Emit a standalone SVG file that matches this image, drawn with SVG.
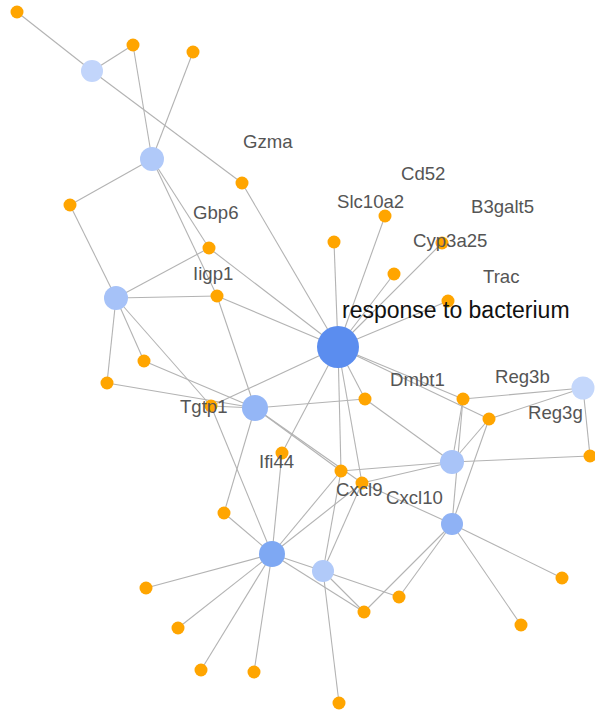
<svg xmlns="http://www.w3.org/2000/svg" width="595" height="712" viewBox="0 0 595 712">
<style>
.e{stroke:#b3b3b3;stroke-width:1.1;fill:none}
.o{fill:#ffa500}
.lb{font-family:"Liberation Sans",Arial,sans-serif;font-size:18.6px;fill:#555}
.big{font-family:"Liberation Sans",Arial,sans-serif;font-size:23px;fill:#111}
</style>
<rect width="595" height="712" fill="#fff"/>
<g id="edges" class="e">
<line x1="92" y1="71" x2="17" y2="12"/>
<line x1="92" y1="71" x2="133" y2="45"/>
<line x1="92" y1="71" x2="242" y2="183"/>
<line x1="152" y1="159" x2="133" y2="45"/>
<line x1="152" y1="159" x2="193" y2="52"/>
<line x1="152" y1="159" x2="70" y2="205"/>
<line x1="152" y1="159" x2="209" y2="248"/>
<line x1="152" y1="159" x2="217" y2="296"/>
<line x1="242" y1="183" x2="338" y2="347"/>
<line x1="116" y1="298" x2="70" y2="205"/>
<line x1="116" y1="298" x2="209" y2="248"/>
<line x1="116" y1="298" x2="217" y2="296"/>
<line x1="116" y1="298" x2="144" y2="361"/>
<line x1="116" y1="298" x2="107" y2="383"/>
<line x1="116" y1="298" x2="211" y2="406"/>
<line x1="209" y1="248" x2="338" y2="347"/>
<line x1="217" y1="296" x2="338" y2="347"/>
<line x1="217" y1="296" x2="255" y2="408"/>
<line x1="144" y1="361" x2="255" y2="408"/>
<line x1="107" y1="383" x2="255" y2="408"/>
<line x1="211" y1="406" x2="255" y2="408"/>
<line x1="211" y1="406" x2="338" y2="347"/>
<line x1="211" y1="406" x2="272" y2="554"/>
<line x1="338" y1="347" x2="334" y2="242"/>
<line x1="338" y1="347" x2="385" y2="216"/>
<line x1="338" y1="347" x2="442" y2="243"/>
<line x1="338" y1="347" x2="394" y2="274"/>
<line x1="338" y1="347" x2="448" y2="301"/>
<line x1="338" y1="347" x2="282" y2="453"/>
<line x1="338" y1="347" x2="365" y2="399"/>
<line x1="338" y1="347" x2="463" y2="399"/>
<line x1="338" y1="347" x2="489" y2="419"/>
<line x1="338" y1="347" x2="341" y2="471"/>
<line x1="338" y1="347" x2="362" y2="483"/>
<line x1="255" y1="408" x2="365" y2="399"/>
<line x1="255" y1="408" x2="341" y2="471"/>
<line x1="255" y1="408" x2="362" y2="483"/>
<line x1="255" y1="408" x2="224" y2="513"/>
<line x1="282" y1="453" x2="272" y2="554"/>
<line x1="365" y1="399" x2="452" y2="462"/>
<line x1="463" y1="399" x2="583" y2="388"/>
<line x1="489" y1="419" x2="583" y2="388"/>
<line x1="583" y1="388" x2="590" y2="456"/>
<line x1="463" y1="399" x2="452" y2="462"/>
<line x1="463" y1="399" x2="452" y2="524"/>
<line x1="489" y1="419" x2="452" y2="462"/>
<line x1="489" y1="419" x2="452" y2="524"/>
<line x1="452" y1="462" x2="590" y2="456"/>
<line x1="341" y1="471" x2="452" y2="462"/>
<line x1="362" y1="483" x2="452" y2="462"/>
<line x1="362" y1="483" x2="452" y2="524"/>
<line x1="341" y1="471" x2="272" y2="554"/>
<line x1="362" y1="483" x2="272" y2="554"/>
<line x1="341" y1="471" x2="323" y2="571"/>
<line x1="362" y1="483" x2="323" y2="571"/>
<line x1="224" y1="513" x2="272" y2="554"/>
<line x1="272" y1="554" x2="323" y2="571"/>
<line x1="272" y1="554" x2="364" y2="612"/>
<line x1="323" y1="571" x2="364" y2="612"/>
<line x1="323" y1="571" x2="399" y2="597"/>
<line x1="452" y1="524" x2="364" y2="612"/>
<line x1="452" y1="524" x2="399" y2="597"/>
<line x1="272" y1="554" x2="146" y2="588"/>
<line x1="272" y1="554" x2="178" y2="628"/>
<line x1="272" y1="554" x2="201" y2="670"/>
<line x1="272" y1="554" x2="254" y2="672"/>
<line x1="323" y1="571" x2="339" y2="703"/>
<line x1="452" y1="524" x2="562" y2="578"/>
<line x1="452" y1="524" x2="521" y2="625"/>
</g>
<g id="n-o1"><circle class="o" cx="17" cy="12" r="6.5"/></g>
<g id="n-o2"><circle class="o" cx="133" cy="45" r="6.5"/></g>
<g id="n-o3"><circle class="o" cx="193" cy="52" r="6.5"/></g>
<g id="n-gzma"><circle class="o" cx="242" cy="183" r="6.5"/></g>
<g id="n-o5"><circle class="o" cx="70" cy="205" r="6.5"/></g>
<g id="n-gbp6"><circle class="o" cx="209" cy="248" r="6.5"/></g>
<g id="n-iigp1"><circle class="o" cx="217" cy="296" r="6.5"/></g>
<g id="n-o8"><circle class="o" cx="334" cy="242" r="6.5"/></g>
<g id="n-slc10a2"><circle class="o" cx="385" cy="216" r="6.5"/></g>
<g id="n-cyp3a25"><circle class="o" cx="442" cy="243" r="6.5"/></g>
<g id="n-o11"><circle class="o" cx="394" cy="274" r="6.5"/></g>
<g id="n-trac"><circle class="o" cx="448" cy="301" r="6.5"/></g>
<g id="n-o13"><circle class="o" cx="144" cy="361" r="6.5"/></g>
<g id="n-o14"><circle class="o" cx="107" cy="383" r="6.5"/></g>
<g id="n-tgtp1"><circle class="o" cx="211" cy="406" r="6.5"/></g>
<g id="n-ifi44"><circle class="o" cx="282" cy="453" r="6.5"/></g>
<g id="n-dmbt1"><circle class="o" cx="365" cy="399" r="6.5"/></g>
<g id="n-reg3b"><circle class="o" cx="463" cy="399" r="6.5"/></g>
<g id="n-reg3g"><circle class="o" cx="489" cy="419" r="6.5"/></g>
<g id="n-o20"><circle class="o" cx="590" cy="456" r="6.5"/></g>
<g id="n-cxcl9"><circle class="o" cx="341" cy="471" r="6.5"/></g>
<g id="n-cxcl10"><circle class="o" cx="362" cy="483" r="6.5"/></g>
<g id="n-o23"><circle class="o" cx="224" cy="513" r="6.5"/></g>
<g id="n-o24"><circle class="o" cx="146" cy="588" r="6.5"/></g>
<g id="n-o25"><circle class="o" cx="178" cy="628" r="6.5"/></g>
<g id="n-o26"><circle class="o" cx="201" cy="670" r="6.5"/></g>
<g id="n-o27"><circle class="o" cx="254" cy="672" r="6.5"/></g>
<g id="n-o28"><circle class="o" cx="339" cy="703" r="6.5"/></g>
<g id="n-o29"><circle class="o" cx="364" cy="612" r="6.5"/></g>
<g id="n-o30"><circle class="o" cx="399" cy="597" r="6.5"/></g>
<g id="n-o31"><circle class="o" cx="562" cy="578" r="6.5"/></g>
<g id="n-o32"><circle class="o" cx="521" cy="625" r="6.5"/></g>
<g id="n-a"><circle cx="92" cy="71" r="11" fill="#c2d5fb"/></g>
<g id="n-b"><circle cx="152" cy="159" r="12" fill="#b0c9f9"/></g>
<g id="n-c"><circle cx="116" cy="298" r="12" fill="#a6c2f8"/></g>
<g id="n-d"><circle cx="255" cy="408" r="13" fill="#94b6f6"/></g>
<g id="n-e"><circle cx="452" cy="462" r="12" fill="#a9c4f8"/></g>
<g id="n-f"><circle cx="583" cy="388" r="11.5" fill="#c4d7fb"/></g>
<g id="n-g"><circle cx="452" cy="524" r="11" fill="#8fb2f5"/></g>
<g id="n-h"><circle cx="272" cy="554" r="13" fill="#7ea8f3"/></g>
<g id="n-i"><circle cx="323" cy="571" r="11" fill="#b1caf9"/></g>
<g id="n-hub"><circle cx="338" cy="347" r="21" fill="#5b8def"/></g>
<g id="labels">
<text class="lb" x="243" y="148">Gzma</text>
<text class="lb" x="193" y="219">Gbp6</text>
<text class="lb" x="193" y="280">Iigp1</text>
<text class="lb" x="401" y="180">Cd52</text>
<text class="lb" x="337" y="208">Slc10a2</text>
<text class="lb" x="471" y="213">B3galt5</text>
<text class="lb" x="413" y="247">Cyp3a25</text>
<text class="lb" x="483" y="283">Trac</text>
<text class="big" x="342" y="318">response to bacterium</text>
<text class="lb" x="390" y="386">Dmbt1</text>
<text class="lb" x="495" y="383">Reg3b</text>
<text class="lb" x="528" y="419">Reg3g</text>
<text class="lb" x="180" y="413">Tgtp1</text>
<text class="lb" x="259" y="468">Ifi44</text>
<text class="lb" x="336" y="496">Cxcl9</text>
<text class="lb" x="386" y="504">Cxcl10</text>
</g>
</svg>
